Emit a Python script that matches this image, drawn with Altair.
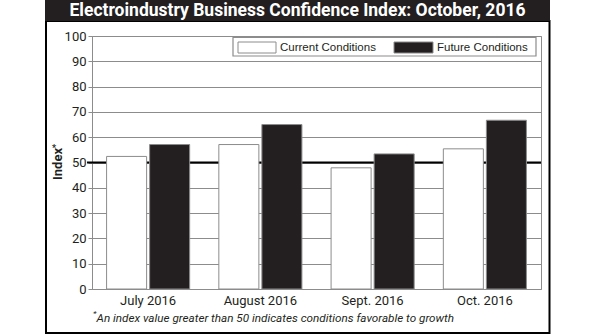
import altair as alt
import pandas as pd

# ---- data ----
months = ["July 2016", "August 2016", "Sept. 2016", "Oct. 2016"]
current = [52.4, 57.1, 47.9, 55.4]
future = [57.1, 65.0, 53.4, 66.7]
series = ["Current Conditions", "Future Conditions"]
y_ticks = [0, 10, 20, 30, 40, 50, 60, 70, 80, 90, 100]
threshold = [50]

title_text = "Electroindustry Business Confidence Index: October, 2016"
footnote_text = "An index value greater than 50 indicates conditions favorable to growth"

rows = []
for m, c, f in zip(months, current, future):
    rows.append({"month": m, "series": series[0], "value": c})
    rows.append({"month": m, "series": series[1], "value": f})
df = pd.DataFrame(rows)

W, H = 449, 253
DARK = "#231f20"
GRAY = "#8c8c8c"
COND = "Roboto, Lato, sans-serif"
SANS = "Liberation Sans, Arial, sans-serif"

one = alt.Data(values=[{}])

y_scale = alt.Scale(domain=[0, 100], nice=False)
y_axis = alt.Axis(title=None, values=y_ticks, grid=True, gridColor=GRAY, gridWidth=1,
                  tickColor=GRAY, tickSize=4, domainColor=GRAY, labelOverlap=False,
                  labelFont=COND, labelFontSize=13, labelColor=DARK, labelPadding=2)

# frame + title bar
frame = alt.Chart(one).mark_rect(filled=False, stroke="#000000", strokeWidth=2).encode(
    x=alt.value(-46), x2=alt.value(457.5), y=alt.value(-15), y2=alt.value(297)
)
title_bar = alt.Chart(one).mark_rect(color=DARK).encode(
    x=alt.value(-47), x2=alt.value(458), y=alt.value(-36), y2=alt.value(-15)
)
title = alt.Chart(one).mark_text(
    text=title_text, color="white", font=COND, fontSize=17.5, fontWeight="bold",
    align="center", baseline="middle"
).encode(x=alt.value(205.5), y=alt.value(-25))

# threshold line at 50
rule50 = alt.Chart(pd.DataFrame({"t": threshold})).mark_rule(color="#000000", strokeWidth=1.8).encode(
    y=alt.Y("t:Q", scale=y_scale, axis=y_axis),
    x=alt.value(-5), x2=alt.value(W)
)

bars = alt.Chart(df).mark_bar(stroke=GRAY, strokeWidth=1).encode(
    x=alt.X("month:N", sort=months,
            scale=alt.Scale(paddingInner=0.26, paddingOuter=0.13),
            axis=alt.Axis(title=None, ticks=False, domain=False, labelAngle=0,
                          labelFont=COND, labelFontSize=13, labelColor=DARK,
                          labelPadding=5)),
    xOffset=alt.XOffset("series:N", sort=series, scale=alt.Scale(paddingInner=0.07, paddingOuter=0)),
    y=alt.Y("value:Q", scale=y_scale, axis=y_axis),
    fill=alt.Fill("series:N", scale=alt.Scale(domain=series, range=["#ffffff", DARK]), legend=None),
)

# y-axis title with superscript asterisk
ytitle = alt.Chart(one).mark_text(
    text="Index", font=COND, fontSize=13, fontWeight="bold", color=DARK,
    angle=270, align="center", baseline="middle"
).encode(x=alt.value(-34), y=alt.value(128))
ystar = alt.Chart(one).mark_text(
    text="*", font=COND, fontSize=9, fontWeight="bold", color=DARK,
    align="center", baseline="middle"
).encode(x=alt.value(-38), y=alt.value(112))

# custom legend
leg_box = alt.Chart(one).mark_rect(filled=False, stroke=GRAY, strokeWidth=1.2).encode(
    x=alt.value(141), x2=alt.value(444), y=alt.value(1.5), y2=alt.value(20)
)
leg_sw1 = alt.Chart(one).mark_rect(fill="#ffffff", stroke=GRAY, strokeWidth=1).encode(
    x=alt.value(146), x2=alt.value(184), y=alt.value(6), y2=alt.value(17)
)
leg_sw2 = alt.Chart(one).mark_rect(fill=DARK, stroke=GRAY, strokeWidth=1).encode(
    x=alt.value(302), x2=alt.value(341), y=alt.value(6), y2=alt.value(17)
)
leg_t1 = alt.Chart(one).mark_text(
    text=series[0], font=SANS, fontSize=11.5, color=DARK, align="left", baseline="middle"
).encode(x=alt.value(188), y=alt.value(11.5))
leg_t2 = alt.Chart(one).mark_text(
    text=series[1], font=SANS, fontSize=11.5, color=DARK, align="left", baseline="middle"
).encode(x=alt.value(345), y=alt.value(11.5))

# footnote
fstar = alt.Chart(one).mark_text(
    text="*", font=COND, fontSize=8, fontStyle="italic", color=DARK, align="left", baseline="middle"
).encode(x=alt.value(1), y=alt.value(278))
fnote = alt.Chart(one).mark_text(
    text=footnote_text, font=COND, fontSize=11.7, fontStyle="italic", color=DARK,
    align="left", baseline="middle"
).encode(x=alt.value(4.5), y=alt.value(282))

chart = alt.layer(
    frame, title_bar, title, rule50, bars, ytitle, ystar,
    leg_box, leg_sw1, leg_sw2, leg_t1, leg_t2, fstar, fnote
).resolve_scale(y="shared").properties(
    width=W, height=H,
    autosize=alt.AutoSizeParams(type="none"),
    padding={"left": 92, "top": 36, "right": 54, "bottom": 46},
    background="white",
).configure_view(stroke=GRAY, strokeWidth=1)

chart.save("out.html", embed_options={"renderer": "svg", "actions": False})
